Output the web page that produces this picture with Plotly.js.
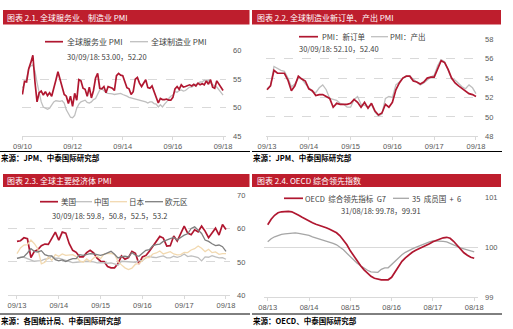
<!DOCTYPE html>
<html><head><meta charset="utf-8">
<script src="https://cdn.plot.ly/plotly-3.0.1.min.js"></script>
<style>html,body{margin:0;padding:0;background:#fff;}#chart{width:513px;height:329px;}</style>
</head><body><div id="chart"></div>
<script>
// ---------- Panel 1: global services / manufacturing PMI, 09/2010 - 09/2018 ----------
const p1Ticks = ['09/10','09/12','09/14','09/16','09/18'];
const p1Services = [52.3,54.6,54.5,56.8,57.9,59.2,54.5,51.0,52.6,52.9,
  52.2,52.8,52.1,52.6,52.0,53.2,54.8,56.3,55.0,53.4,
  52.3,52.0,50.7,52.0,50.2,52.5,51.3,54.9,54.7,53.4,
  53.2,52.0,53.6,51.7,53.0,55.2,56.0,53.4,53.3,53.7,
  52.6,53.7,53.6,53.4,53.0,55.6,56.0,55.7,55.6,54.5,
  53.5,53.3,52.3,52.8,55.0,55.3,54.3,53.7,54.2,54.9,
  53.5,53.4,53.8,52.8,51.9,50.8,51.6,51.4,51.4,51.5,
  51.3,51.3,51.8,53.3,53.7,53.2,54.0,53.6,53.7,53.8,
  54.0,53.8,54.1,53.8,54.3,54.0,54.2,54.0,54.7,54.1,
  54.9,53.6,53.4,54.7,54.2,53.6,53.0];
const p1Manufacturing = [53.4,54.3,55.1,56.9,57.3,57.5,56.4,54.4,52.6,51.0,
  50.1,49.9,49.7,49.9,50.4,51.0,51.2,51.1,51.1,51.2,
  50.8,49.6,48.8,48.3,48.2,48.6,49.9,50.6,51.0,51.2,
  51.3,50.9,50.8,51.0,51.4,51.6,52.4,53.1,53.3,53.0,
  52.6,52.5,52.5,52.4,52.3,52.4,52.5,52.5,52.3,52.2,
  52.0,51.8,51.7,51.6,51.5,51.4,51.4,51.2,51.2,51.0,
  50.8,51.0,51.0,50.7,50.6,50.1,50.5,50.1,50.6,51.0,
  51.6,52.0,52.2,52.8,52.7,53.0,53.1,52.9,53.0,53.3,
  53.6,53.6,53.9,54.1,54.2,54.5,54.5,54.8,54.6,54.8,
  54.3,54.0,53.8,53.6,53.1,52.8,52.2];

// ---------- Panel 2: global manufacturing new orders / output, 09/2013 - 09/2018 ----------
const p2Ticks = ['09/13','09/14','09/15','09/16','09/17','09/18'];
const p2NewOrders = [52.8,53.2,54.8,54.5,54.5,54.5,53.8,52.7,53.2,54.2,
  53.9,53.7,52.9,52.7,52.2,52.3,52.3,52.1,51.9,51.0,
  51.4,51.3,51.3,51.3,51.4,51.8,51.5,51.0,51.5,50.9,
  51.4,50.6,50.2,50.4,51.3,51.0,51.5,52.8,53.5,54.0,
  54.2,54.2,53.7,53.6,53.4,53.6,54.0,54.1,54.1,55.0,
  55.8,55.6,54.9,54.0,53.5,53.2,52.9,52.6,52.4,52.3,52.1];
const p2Output = [52.9,53.2,55.2,55.0,54.8,54.7,54.0,53.1,53.4,54.0,
  53.9,53.4,53.0,52.6,52.5,53.0,53.3,52.8,51.9,51.8,
  51.7,51.4,51.3,51.0,51.0,51.8,52.1,51.3,51.2,51.0,
  51.3,50.5,50.1,50.3,51.9,52.1,52.0,53.3,53.6,54.0,
  54.2,54.2,53.9,53.6,53.3,53.5,53.8,54.1,54.3,55.3,
  55.9,55.7,54.8,53.9,53.8,53.4,53.1,52.9,53.3,53.0,52.4];

// ---------- Panel 3: major economies PMI, 09/2013 - 09/2018 ----------
const p3Ticks = ['09/13','09/14','09/15','09/16','09/17','09/18'];
const p3US = [56.2,56.4,57.3,57.0,51.3,53.2,53.7,54.9,55.4,55.3,
  57.1,59.0,56.6,59.0,58.7,55.5,53.5,52.9,51.5,51.5,
  52.8,53.5,52.7,51.1,50.2,50.1,48.6,48.2,48.2,49.5,
  51.8,50.8,51.3,53.2,52.6,49.4,51.5,51.9,53.2,54.7,
  56.0,57.7,57.2,54.8,54.9,57.8,56.3,58.8,60.8,58.7,
  58.2,59.7,59.1,60.8,59.3,57.3,58.7,60.2,58.1,61.3,59.8];
const p3China = [51.1,51.4,51.4,51.0,50.5,50.2,50.3,50.4,50.8,51.0,
  51.7,51.1,51.1,50.8,50.3,50.1,49.8,49.9,50.1,50.1,
  50.2,50.2,50.0,49.7,49.8,49.8,49.6,49.7,49.4,49.0,
  50.2,50.1,50.1,50.0,49.9,50.4,50.4,51.2,51.7,51.4,
  51.3,51.6,51.8,51.2,51.2,51.7,51.4,51.7,52.4,51.6,
  51.8,51.6,51.3,50.3,51.5,51.4,51.9,51.5,51.2,51.3,50.8];
const p3Japan = [52.5,54.2,55.1,55.2,56.6,55.5,53.9,49.4,49.9,51.5,
  50.5,52.2,51.7,52.4,52.0,52.0,52.2,51.6,50.3,49.9,
  50.9,50.1,51.2,51.7,51.0,52.4,52.6,52.6,52.3,50.1,
  49.1,48.2,47.7,48.1,49.3,49.5,50.4,51.4,51.3,52.4,
  52.7,53.3,52.4,52.7,53.1,52.4,52.1,52.2,52.9,52.8,
  53.6,54.0,54.8,54.1,53.1,53.8,52.8,53.0,52.3,52.5,52.5];
const p3Euro = [51.1,51.3,51.6,52.7,54.0,53.2,53.0,53.4,52.2,51.8,
  51.8,50.7,50.3,50.6,50.1,50.6,51.0,51.0,52.2,52.0,
  52.2,52.5,52.4,52.3,52.0,52.3,52.8,53.2,52.3,51.2,
  51.6,51.7,51.5,52.8,52.0,51.7,52.6,53.5,53.7,54.9,
  55.2,55.4,56.2,56.7,57.0,57.4,56.6,57.4,58.1,58.5,
  60.1,60.6,59.6,58.6,56.6,56.2,55.5,54.9,55.1,54.6,53.2];

// ---------- Panel 4: OECD composite leading indicator, 08/2013 - 08/2018 ----------
const p4Ticks = ['08/13','08/14','08/15','08/16','08/17','08/18'];
const p4G7 = [100.45,100.56,100.64,100.69,100.71,100.72,100.72,100.71,100.68,100.64,
  100.60,100.56,100.52,100.49,100.46,100.44,100.42,100.39,100.36,100.33,
  100.29,100.23,100.15,100.05,99.93,99.83,99.72,99.63,99.55,99.48,
  99.42,99.38,99.36,99.35,99.35,99.35,99.40,99.50,99.62,99.72,
  99.79,99.85,99.90,99.94,99.97,100.00,100.03,100.07,100.11,100.14,
  100.17,100.19,100.20,100.18,100.12,100.04,99.96,99.89,99.84,99.80,99.78];
const p4Plus6 = [100.11,100.17,100.21,100.24,100.26,100.27,100.28,100.28,100.29,100.28,
  100.27,100.26,100.24,100.21,100.19,100.17,100.15,100.13,100.11,100.08,
  100.05,100.00,99.95,99.88,99.81,99.74,99.68,99.63,99.58,99.54,
  99.51,99.50,99.50,99.56,99.59,99.59,99.66,99.73,99.80,99.85,
  99.90,99.94,99.97,100.00,100.03,100.06,100.09,100.11,100.13,100.13,
  100.13,100.12,100.11,100.08,100.05,100.01,99.99,99.97,99.95,99.93,99.91];

// ---------- drawing ----------
const W = 513, H = 329;
const X = v => v / W, Y = v => 1 - v / H;
const RED = '#B01730', BAR = '#BE1E2D', LGRAY = '#BFBFBF', DGRAY = '#7F7F7F', TAN = '#F2D9B0', G4 = '#A6A6A6';
const NUM = 'Liberation Sans, Arial, sans-serif';
const CJK = 'Noto Sans CJK SC, Liberation Sans, sans-serif';
const idx = a => a.map((_, i) => i);
const last = a => a[a.length - 1];

function line(xa, ya, y, color, width) {
  return {type: 'scatter', mode: 'lines', x: idx(y), y: y, xaxis: xa, yaxis: ya,
          line: {color: color, width: width}, hoverinfo: 'skip'};
}
const data = [
  line('x', 'y', p1Manufacturing, LGRAY, 1.3),
  line('x', 'y', p1Services, RED, 1.7),
  line('x2', 'y2', p2Output, LGRAY, 1.3),
  line('x2', 'y2', p2NewOrders, RED, 1.7),
  line('x3', 'y3', p3US, RED, 1.7),
  line('x3', 'y3', p3China, LGRAY, 1.3),
  line('x3', 'y3', p3Japan, TAN, 1.3),
  line('x3', 'y3', p3Euro, DGRAY, 1.3),
  line('x4', 'y4', p4Plus6, G4, 1.3),
  line('x4', 'y4', p4G7, RED, 1.7)
];

const tickFont = {family: NUM, size: 7.5, color: '#595959'};
function xax(anchor, d0, d1, r0, r1, step, labels) {
  return {anchor: anchor, domain: [X(d0), X(d1)], range: [r0, r1],
    tickmode: 'array', tickvals: labels.map((_, i) => i * step), ticktext: labels,
    showgrid: false, zeroline: false, showline: true, linecolor: '#D9D9D9', linewidth: 1,
    ticks: 'outside', ticklen: 3, tickcolor: '#D9D9D9', tickfont: tickFont, fixedrange: true};
}
function yax(anchor, d0, d1, r0, r1, dtick, dash) {
  return {anchor: anchor, domain: [Y(d0), Y(d1)], range: [r0, r1], tick0: r0, dtick: dtick,
    side: 'right', showgrid: true, gridcolor: '#D9D9D9', griddash: dash, gridwidth: 1,
    zeroline: false, showline: false, ticks: '', tickfont: tickFont, ticklabelstandoff: 6, fixedrange: true};
}

const shapes = [];
const ann = [];
function rect(x0, y0, x1, y1, color) {
  shapes.push({type: 'rect', xref: 'paper', yref: 'paper', x0: X(x0), x1: X(x1), y0: Y(y1), y1: Y(y0),
               fillcolor: color, line: {width: 0}, layer: 'above'});
}
function seg(x0, x1, y, color, width) {
  shapes.push({type: 'line', xref: 'paper', yref: 'paper', x0: X(x0), x1: X(x1), y0: Y(y), y1: Y(y),
               line: {color: color, width: width}, layer: 'above'});
}
function text(x, y, t, size, color, opts, weight) {
  ann.push(Object.assign({xref: 'paper', yref: 'paper', x: X(x), y: Y(y), text: t, showarrow: false,
    xanchor: 'left', yanchor: 'middle', borderpad: 0,
    font: {family: CJK, size: size, color: color, weight: weight || 'normal'}}, opts || {}));
}

// title bars
rect(3, 10, 249.5, 24.5, BAR); rect(252, 10, 501, 24.5, BAR);
rect(3, 174, 249.5, 187, BAR); rect(252, 174, 501, 187, BAR);
text(6, 17.5, '图表 2.1. 全球服务业、制造业 PMI', 8, '#FFFFFF');
text(256, 17.5, '图表 2.2. 全球制造业新订单、产出 PMI', 8, '#FFFFFF');
text(6, 180.5, '图表 2.3. 全球主要经济体 PMI', 8, '#FFFFFF');
text(256, 180.5, '图表 2.4. OECD 综合领先指数', 8, '#FFFFFF');

// source rules + texts
seg(0, 250, 151.5, '#000000', 1); seg(252, 502, 151.5, '#000000', 1);
seg(0, 250, 314, '#000000', 1); seg(252, 502, 314, '#000000', 1);
text(0, 157, '来源：JPM、中泰国际研究部', 7.5, '#000000', null, 'bold');
text(252, 157, '来源：JPM、中泰国际研究部', 7.5, '#000000', null, 'bold');
text(0, 320, '来源：各国统计局、中泰国际研究部', 7.5, '#000000', null, 'bold');
text(252, 320, '来源：OECD、中泰国际研究部', 7.5, '#000000', null, 'bold');

// legends
const LG = '#404040';
seg(45, 63, 41.7, RED, 1.7); text(66, 41.7, '全球服务业 PMI', 8, LG);
seg(130, 148, 41.7, LGRAY, 1.3); text(150, 41.7, '全球制造业 PMI', 8, LG);

rect(295, 31, 426, 43, '#FFFFFF');
seg(299, 318, 36.7, RED, 1.7); text(321, 36.7, 'PMI：新订单', 7.5, LG);
seg(371, 388, 36.7, LGRAY, 1.3); text(389, 36.7, 'PMI：产出', 7.5, LG);

rect(38, 192, 185, 209, '#FFFFFF');
seg(40, 58, 201.7, RED, 1.7); text(60, 201.7, '美国', 7.5, LG);
seg(75, 92, 201.7, LGRAY, 1.3); text(93, 201.7, '中国', 7.5, LG);
seg(110, 127, 201.7, TAN, 1.3); text(128, 201.7, '日本', 7.5, LG);
seg(145, 163, 201.7, DGRAY, 1.3); text(164, 201.7, '欧元区', 7.5, LG);

rect(271, 192, 468, 204, '#FFFFFF');
seg(284, 303, 198.3, RED, 1.7); text(304, 198.3, 'OECD  综合领先指标  G7', 7.5, LG);
seg(393, 409, 198.3, G4, 1.3); text(411, 198.3, '35  成员国  +  6', 7.5, LG);

// latest value notes
const f2 = v => v.toFixed(2), f1 = v => v.toFixed(1);
text(66, 56.7, '30/09/18: ' + f2(last(p1Services)) + '，' + f2(last(p1Manufacturing)), 7.5, LG, {bgcolor: '#FFFFFF'});
text(298, 48.3, '30/09/18: ' + f2(last(p2NewOrders)) + '，' + f2(last(p2Output)), 7.5, LG, {bgcolor: '#FFFFFF'});
text(51, 215, '30/09/18: ' + [p3US, p3China, p3Japan, p3Euro].map(a => f1(last(a))).join('，'), 7.5, LG, {bgcolor: '#FFFFFF'});
text(340, 210.7, '31/08/18: ' + f2(last(p4G7)) + '，' + f2(last(p4Plus6)), 7.5, LG, {bgcolor: '#FFFFFF'});

const layout = {
  width: W, height: H, margin: {l: 0, r: 0, t: 0, b: 0},
  paper_bgcolor: '#FFFFFF', plot_bgcolor: 'rgba(0,0,0,0)', showlegend: false,
  xaxis: xax('y', 22, 226, -0.2, 97.4, 24, p1Ticks),
  yaxis: yax('x', 136, 50.7, 45, 60, 5, 'dash'),
  xaxis2: xax('y2', 266, 478, -0.29, 60.58, 12, p2Ticks),
  yaxis2: yax('x2', 136.3, 39.3, 48, 58, 2, 'dash'),
  xaxis3: xax('y3', 8, 230, -2.58, 61.15, 12, p3Ticks),
  yaxis3: yax('x3', 295, 195.7, 40, 70, 10, 'dash'),
  xaxis4: xax('y4', 264, 478, -1.08, 61.1, 12, p4Ticks),
  yaxis4: yax('x4', 297.3, 197.3, 99, 101, 1, 'solid'),
  shapes: shapes, annotations: ann
};
Plotly.newPlot('chart', data, layout, {staticPlot: true, displayModeBar: false});
</script></body></html>
